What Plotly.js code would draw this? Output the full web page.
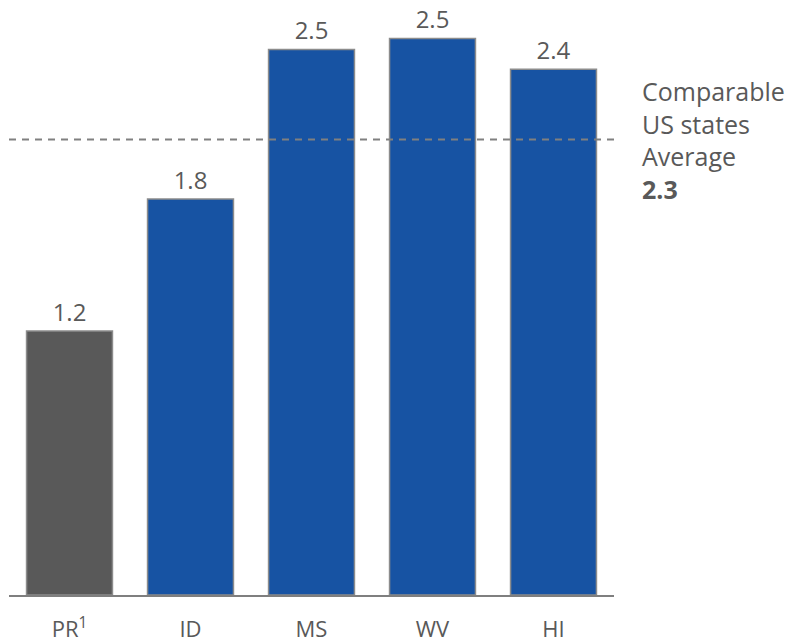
<!DOCTYPE html>
<html>
<head>
<meta charset="utf-8">
<script src="https://cdn.plot.ly/plotly-3.0.1.min.js"></script>
<style>html,body{margin:0;padding:0;background:#fff;}#chart{width:805px;height:642px;}</style>
</head>
<body>
<div id="chart"></div>
<script>
// Data
const categories = ["PR<sup>1</sup>", "ID", "MS", "WV", "HI"];
const values = [1.2, 1.8, 2.48, 2.53, 2.39];
const barColors = ["#595959", "#1753A3", "#1753A3", "#1753A3", "#1753A3"];
const avgLineLevel = 2.07;
const avgLabelLines = ["Comparable", "US states", "Average", "<b>2.3</b>"];

const textGray = "#595959";
const fontFam = "'Open Sans', 'Noto Sans', sans-serif";

const trace = {
  type: "bar",
  x: categories,
  y: values,
  marker: { color: barColors, line: { color: "#8c8c8c", width: 1.5 } },
  text: values.map(v => v.toFixed(1)),
  textposition: "outside",
  textfont: { family: fontFam, size: 24, color: textGray },
  cliponaxis: false,
  hoverinfo: "skip"
};

const layout = {
  width: 805,
  height: 642,
  margin: { l: 9, r: 191, t: 10, b: 47 },
  paper_bgcolor: "#ffffff",
  plot_bgcolor: "#ffffff",
  bargap: 0.29,
  showlegend: false,
  font: { family: fontFam, color: textGray },
  xaxis: {
    type: "category",
    range: [-0.5, 4.5],
    showline: true,
    linecolor: "#7f7f7f",
    linewidth: 2,
    showgrid: false,
    zeroline: false,
    ticks: "",
    ticklabelstandoff: 14,
    tickfont: { family: fontFam, size: 22, color: textGray },
    fixedrange: true
  },
  yaxis: {
    range: [0, 2.659],
    visible: false,
    showgrid: false,
    zeroline: false,
    fixedrange: true
  },
  shapes: [{
    type: "line",
    xref: "paper", yref: "y",
    x0: 0, x1: 1,
    y0: avgLineLevel, y1: avgLineLevel,
    line: { color: "#808080", width: 2, dash: "7px,6px" },
    layer: "above"
  }],
  annotations: [{
    xref: "paper", yref: "y",
    x: 1.043, y: avgLineLevel,
    xanchor: "left", yanchor: "middle",
    align: "left",
    showarrow: false,
    text: avgLabelLines.join("<br>"),
    font: { family: fontFam, size: 25, color: textGray }
  }]
};

Plotly.newPlot("chart", [trace], layout, { displayModeBar: false, staticPlot: true });
</script>
</body>
</html>
